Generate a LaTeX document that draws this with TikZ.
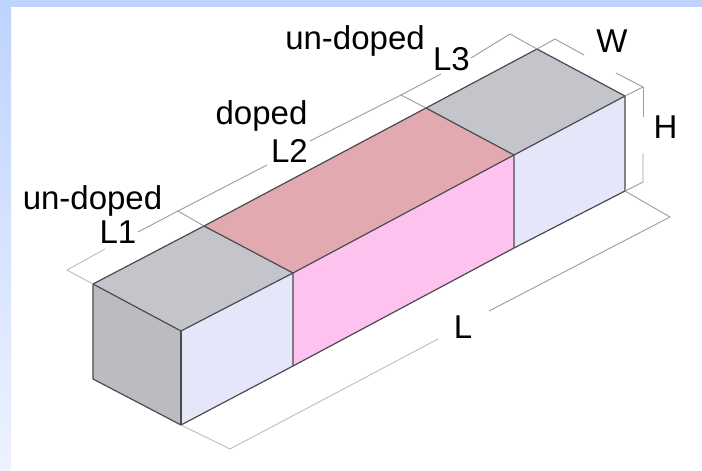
\documentclass[tikz,border=0pt]{standalone}
\usepackage{fontspec}
\setmainfont{Liberation Sans}
\definecolor{bandtop}{HTML}{BFD3FF}
\definecolor{bandbot}{HTML}{EDF2FF}
\definecolor{graytop}{HTML}{C4C4CB}
\definecolor{grayleft}{HTML}{BBBBC2}
\definecolor{redtop}{HTML}{E3A9B0}
\definecolor{pinkface}{HTML}{FDC2EE}
\definecolor{lavface}{HTML}{E6E6FA}
\definecolor{edgecol}{HTML}{4A4A50}
\definecolor{dimcol}{HTML}{9C9C9C}
\definecolor{dimpale}{HTML}{BDBDBD}
\tikzset{
  edgeline/.style={draw=edgecol,line width=1.2pt,line join=round},
  dimline/.style={draw=dimcol,line width=0.9pt,line join=round},
  dimfaint/.style={draw=dimpale,line width=0.9pt,line join=round},
  lab/.style={font=\fontsize{33}{36}\selectfont,text=black,inner sep=0pt,outer sep=0pt}
}
\begin{document}
\begin{tikzpicture}[x=1pt,y=-1pt]
\useasboundingbox (0,0) rectangle (702,471);
% background
\fill[white] (0,0) rectangle (702,471);
\fill[bandtop] (0,0) rectangle (702,7);
\shade[top color=bandtop,bottom color=bandbot] (0,7) rectangle (11,471);
% corners of the bar
\coordinate (tl) at (93,284);
\coordinate (tf) at (181,331);
\coordinate (bl) at (93,379);
\coordinate (bf) at (181,425);
\coordinate (rb1) at (204,226);
\coordinate (rf1) at (293,273);
\coordinate (bb1) at (293,366);
\coordinate (rb2) at (426,108);
\coordinate (rf2) at (514,155);
\coordinate (bb2) at (514,248);
\coordinate (eb) at (537,49);
\coordinate (er) at (625,96);
\coordinate (ebr) at (625,191);
% faces
\fill[grayleft] (tl) -- (tf) -- (bf) -- (bl) -- cycle;
\fill[graytop] (tl) -- (rb1) -- (rf1) -- (tf) -- cycle;
\fill[redtop] (rb1) -- (rb2) -- (rf2) -- (rf1) -- cycle;
\fill[graytop] (rb2) -- (eb) -- (er) -- (rf2) -- cycle;
\fill[lavface] (tf) -- (rf1) -- (bb1) -- (bf) -- cycle;
\fill[pinkface] (rf1) -- (rf2) -- (bb2) -- (bb1) -- cycle;
\fill[lavface] (rf2) -- (er) -- (ebr) -- (bb2) -- cycle;
% edges
\draw[edgeline] (tl) -- (rb1) -- (rb2) -- (eb) -- (er) -- (ebr) -- (bb2) -- (bb1) -- (bf) -- (bl) -- cycle;
\draw[edgeline] (tl) -- (tf) -- (rf1) -- (rf2) -- (er);
\draw[edgeline] (tf) -- (bf);
\draw[edgeline] (rb1) -- (rf1) -- (bb1);
\draw[edgeline] (rb2) -- (rf2) -- (bb2);
% labels
\node[lab,anchor=base] (undopedA) at (92.5,209) {un-doped};
\node[lab,anchor=base] (lOne) at (118,243) {L1};
\node[lab,anchor=base] (doped) at (261.5,124) {doped};
\node[lab,anchor=base] (lTwo) at (289.5,162) {L2};
\node[lab,anchor=base] (undopedB) at (355,49) {un-doped};
\node[lab,anchor=base] (lThree) at (451.5,70) {L3};
\node[lab,anchor=base] (labW) at (612,52) {W};
\node[lab,anchor=base] (labH) at (665.5,138) {H};
\node[lab,anchor=base] (labL) at (463,338) {L};
% dimension geometry
\coordinate (d0) at (67,270);
\coordinate (d0a) at (105,249);
\coordinate (d1s) at (138,232);
\coordinate (d1) at (178,211);
\coordinate (d1e) at (267,165);
\coordinate (d2s) at (310,141);
\coordinate (d2) at (401,95);
\coordinate (d2e) at (441,74);
\coordinate (d3s) at (471,58);
\coordinate (d3) at (510,34);
\coordinate (w1) at (555,39);
\coordinate (w2) at (584,55);
\coordinate (h0) at (616,73);
\coordinate (h1) at (643,87);
\coordinate (h1e) at (643,117);
\coordinate (h2s) at (643,153);
\coordinate (h2) at (643,182);
\coordinate (ld1) at (670,217);
\coordinate (ld1e) at (489,311);
\coordinate (ld2s) at (438,339);
\coordinate (ld2) at (230,449);
% dimension lines
\draw[dimfaint] (tl) -- (d0) -- (d0a);
\draw[dimline] (d1s) -- (d1) -- (d1e);
\draw[dimline] (d1) -- (rb1);
\draw[dimline] (d2s) -- (d2) -- (d2e);
\draw[dimline] (d2) -- (rb2);
\draw[dimline] (d3s) -- (d3) -- (eb);
\draw[dimline] (eb) -- (w1) -- (w2);
\draw[dimline] (h0) -- (h1) -- (er);
\draw[dimline] (h1) -- (h1e);
\draw[dimline] (h2s) -- (h2) -- (ebr);
\draw[dimline] (ebr) -- (ld1) -- (ld1e);
\draw[dimfaint] (ld2s) -- (ld2) -- (bf);
\end{tikzpicture}
\end{document}
